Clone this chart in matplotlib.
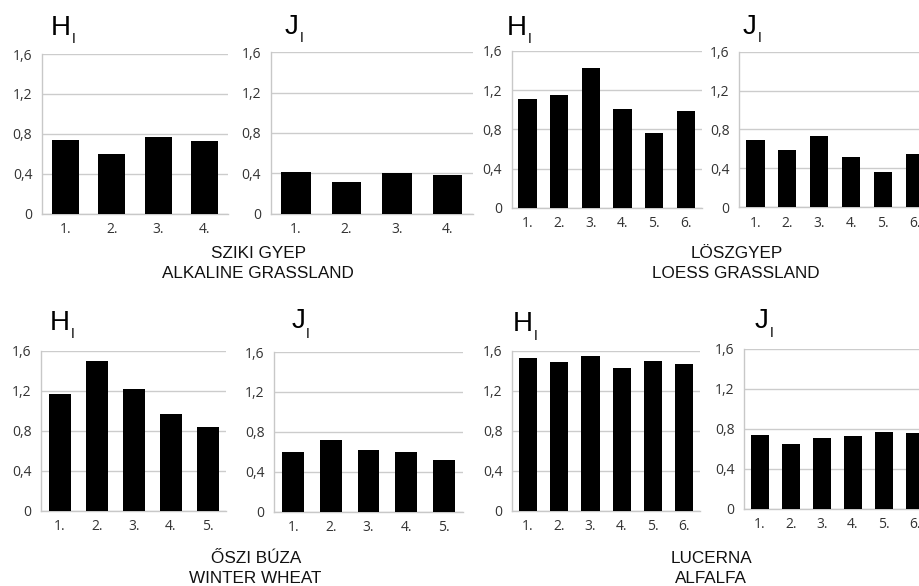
import matplotlib
matplotlib.use("Agg")
import matplotlib.pyplot as plt

# Shannon diversity (H) and evenness (J) per sampling point
sziki_H = [0.74, 0.60, 0.77, 0.73]
sziki_J = [0.41, 0.31, 0.40, 0.38]
losz_H = [1.11, 1.15, 1.43, 1.01, 0.76, 0.99]
losz_J = [0.69, 0.59, 0.73, 0.52, 0.36, 0.55]
buza_H = [1.17, 1.50, 1.22, 0.97, 0.84]
buza_J = [0.60, 0.72, 0.62, 0.60, 0.52]
lucerna_H = [1.53, 1.49, 1.55, 1.43, 1.50, 1.47]
lucerna_J = [0.74, 0.65, 0.71, 0.73, 0.77, 0.76]

y_ticks = [0, 0.4, 0.8, 1.2, 1.6]
y_labels = ["0", "0,4", "0,8", "1,2", "1,6"]

groups = [
    ("SZIKI GYEP", "ALKALINE GRASSLAND"),
    ("LÖSZGYEP", "LOESS GRASSLAND"),
    ("ŐSZI BÚZA", "WINTER WHEAT"),
    ("LUCERNA", "ALFALFA"),
]

W, H = 920, 586
fig = plt.figure(figsize=(W / 100, H / 100), dpi=100)

TICK_FONT = ["Open Sans", "DejaVu Sans"]
TITLE_FONT = ["Liberation Sans", "DejaVu Sans"]


def add_panel(box, values, letter, title_xy, sub_xy):
    l, t, r, b = box
    ax = fig.add_axes([l / W, (H - b) / H, (r - l) / W, (b - t) / H])
    x = range(1, len(values) + 1)
    ax.bar(x, values, width=0.58, color="black", zorder=3)
    ax.set_xlim(0.5, len(values) + 0.5)
    ax.set_ylim(0, 1.6)
    ax.set_yticks(y_ticks)
    ax.set_yticklabels(y_labels)
    ax.set_xticks(list(x))
    ax.set_xticklabels([f"{i}." for i in x])
    ax.yaxis.grid(True, color="#cccccc", linewidth=1.0, zorder=0)
    ax.set_axisbelow(True)
    for s in ["top", "right"]:
        ax.spines[s].set_visible(False)
    for s in ["left", "bottom"]:
        ax.spines[s].set_color("#c8c8c8")
        ax.spines[s].set_linewidth(1.0)
    ax.tick_params(axis="both", length=0, labelsize=10, labelcolor="#333333")
    ax.tick_params(axis="y", pad=7)
    ax.tick_params(axis="x", pad=6)
    for lab in ax.get_xticklabels() + ax.get_yticklabels():
        lab.set_family(TICK_FONT)
    fig.text(title_xy[0] / W, 1 - title_xy[1] / H, letter, fontsize=20,
             family=TITLE_FONT, va="baseline", ha="left", color="black")
    fig.text(sub_xy[0] / W, 1 - sub_xy[1] / H, "I", fontsize=10,
             family=TITLE_FONT, va="baseline", ha="left", color="black")
    return ax


add_panel((42, 54, 228, 213.7), sziki_H, "H", (51, 35), (72, 43))
add_panel((270.7, 52.3, 472.7, 213.7), sziki_J, "J", (285, 33.5), (300, 42.5))
add_panel((511.7, 51, 701.7, 207.7), losz_H, "H", (507, 35), (528, 43))
add_panel((739.3, 51.7, 931, 207.3), losz_J, "J", (743, 33.5), (757.5, 42.5))
add_panel((41.3, 351, 226.3, 510.7), buza_H, "H", (49.5, 329.5), (70.5, 338))
add_panel((274.3, 352, 462.8, 511.7), buza_J, "J", (291.5, 328.5), (306, 337.5))
add_panel((512.3, 351, 700, 510.7), lucerna_H, "H", (513, 331), (534, 340))
add_panel((744.3, 349, 930, 508.7), lucerna_J, "J", (755, 328), (769.5, 337))

label_pos = [
    ((259, 258.3), (258, 278.3)),
    ((736.5, 258.3), (736, 278.3)),
    ((256, 562.7), (255, 583.3)),
    ((711, 563.3), (711, 583.3)),
]
for (hu, en), (p1, p2) in zip(groups, label_pos):
    fig.text(p1[0] / W, 1 - p1[1] / H, hu, fontsize=12.3, family=TITLE_FONT,
             ha="center", va="baseline", color="#111111")
    fig.text(p2[0] / W, 1 - p2[1] / H, en, fontsize=12.3, family=TITLE_FONT,
             ha="center", va="baseline", color="#111111")

fig.savefig("out.png", dpi=100)
